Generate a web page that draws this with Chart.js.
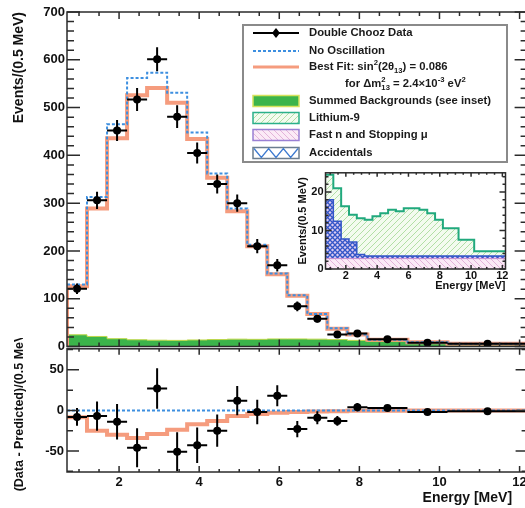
<!DOCTYPE html>
<html>
<head>
<meta charset="utf-8">
<script src="https://cdn.jsdelivr.net/npm/chart.js@4.4.1/dist/chart.umd.min.js"></script>
<style>
    html, body { margin: 0; padding: 0; background: #fff; overflow: hidden; width: 525px; height: 508px; }
    canvas { position: absolute; }
    #main { left: 0; top: 0; }
    #resid { left: 0; top: 338px; }
    #inset { left: 290px; top: 160px; }
</style>
</head>
<body>
<canvas id="main" width="540" height="360"></canvas>
<canvas id="resid" width="540" height="170"></canvas>
<canvas id="inset" width="230" height="135"></canvas>
<script>
// Bin edges in MeV (0.5 MeV bins up to 7.7, then wider ones)
const binEdges = [0.7, 1.2, 1.7, 2.2, 2.7, 3.2, 3.7, 4.2, 4.7, 5.2, 5.7, 6.2, 6.7, 7.2, 7.7, 8.2, 9.2, 10.2, 12.2];

// Events/(0.5 MeV)
const dataEvents    = [121, 306, 452, 517, 601, 481, 405, 340, 300, 210, 170, 84, 58, 25, 27, 15, 8, 6];
const dataErr       = [11, 18, 22, 24, 25, 24, 22, 20, 18, 15, 13, 10, 8, 6, 5, 3, 2, 1.5];
const noOscillation = [130, 313, 465, 562, 573, 531, 448, 362, 289, 213, 153, 107, 68, 38, 25, 14, 9, 6];
const bestFit       = [126, 289, 436, 526, 541, 510, 434, 353, 283, 210, 151, 106, 68, 37, 25, 14, 9, 6];

// backgrounds (stacked: fast n, + accidentals, + lithium-9 = total)
const bgTotal   = [24.5, 21, 16.3, 14.1, 13.2, 12.8, 13.7, 14.5, 15.4, 15, 15.8, 15.8, 15.4, 14.5, 12.8, 10.6, 7.6, 4.6];
const bgAccFast = [18, 12.4, 7.8, 7, 3.8, 3.4, 3.4, 3.4, 3.4, 3.4, 3.4, 3.4, 3.4, 3.4, 3.4, 3.4, 3.4, 3.4];
const bgFastN   = [2.7, 2.7, 2.7, 2.7, 2.7, 2.7, 2.7, 2.7, 2.7, 2.7, 2.7, 2.7, 2.7, 2.7, 2.7, 2.7, 2.7, 2.7];

// lower panel: data - predicted
const residData  = [-8, -7, -14, -46, 27, -51, -43, -25, 12, -2, 18, -23, -9, -13, 4, 3, -2, -1];
const residFit   = [-8.5, -25, -30, -34, -29, -24, -17, -13, -7, -4.5, -3, -2, -1.5, -1, -0.5, -0.3, 0, 0];
const residNoOsc = [0, 0, 0, 0, 0, 0, 0, 0, 0, 0, 0, 0, 0, 0, 0, 0, 0, 0];

// tick labels
const energyTicks = [2, 4, 6, 8, 10, 12];
const mainYTicks  = [0, 100, 200, 300, 400, 500, 600, 700];
const residYTicks = [-50, 0, 50];
const insetYTicks = [0, 10, 20];

const FONT = "'Liberation Sans', Arial, sans-serif";
const ORANGE = '#f59c7e';
const BLUE = '#3d8fe0';
const GREEN = '#3cb44b';

Chart.defaults.font.family = FONT;
Chart.defaults.font.weight = 'bold';
Chart.defaults.color = '#111';

const binCenters = binEdges.slice(0, -1).map((e, i) => (e + binEdges[i + 1]) / 2);
const binHalf = binEdges.slice(0, -1).map((e, i) => (binEdges[i + 1] - e) / 2);

// histogram outline as step points
const steps = (vals, start) => {
    const pts = binEdges.map((e, i) => ({ x: e, y: vals[Math.min(i, vals.length - 1)] }));
    if (start !== undefined) pts.unshift({ x: binEdges[0], y: start });
    return pts;
};
const points = vals => vals.map((v, i) => ({ x: binCenters[i], y: v }));

const hatch = (bg, fg, size, lw, kind) => {
    const c = document.createElement('canvas');
    c.width = c.height = size;
    const g = c.getContext('2d');
    g.fillStyle = bg;
    g.fillRect(0, 0, size, size);
    g.strokeStyle = fg;
    g.lineWidth = lw;
    g.beginPath();
    if (kind === '/' || kind === 'x') {
        g.moveTo(-1, size + 1); g.lineTo(size + 1, -1);
    }
    if (kind === '\\' || kind === 'x') {
        g.moveTo(-1, -1); g.lineTo(size + 1, size + 1);
    }
    g.stroke();
    return g.createPattern(c, 'repeat');
};
const li9Fill = hatch('#f3fbef', '#b2dfa6', 6, 1, '/');
const fastFill = hatch('#fbeaf6', '#e3b3da', 6, 1, '\\');
const accFill = hatch('#dccbf0', '#3356c8', 5, 1.3, 'x');

const eachTick = (scale, minor, major, cb) => {
    const k0 = Math.ceil(scale.min / minor - 1e-6), k1 = Math.floor(scale.max / minor + 1e-6);
    for (let k = k0; k <= k1; k++) {
        const v = k * minor;
        cb(v, Math.abs(v / major - Math.round(v / major)) < 1e-6);
    }
};

// frame with inward ticks on all four sides
const frame = (cfg) => ({
    id: 'frame',
    afterDraw(chart) {
        const { ctx, chartArea: a, scales: { x, y } } = chart;
        ctx.save();
        ctx.strokeStyle = '#2b2b2b';
        ctx.lineWidth = cfg.lw;
        ctx.beginPath();
        eachTick(x, cfg.xMinor, cfg.xMajor, (v, major) => {
            const p = x.getPixelForValue(v);
            const l = major ? cfg.xLen[0] : cfg.xLen[1];
            ctx.moveTo(p, a.bottom); ctx.lineTo(p, a.bottom - l);
            ctx.moveTo(p, a.top); ctx.lineTo(p, a.top + l);
        });
        eachTick(y, cfg.yMinor, cfg.yMajor, (v, major) => {
            const p = y.getPixelForValue(v);
            const l = major ? cfg.yLen[0] : cfg.yLen[1];
            ctx.moveTo(a.left, p); ctx.lineTo(a.left + l, p);
            ctx.moveTo(a.right, p); ctx.lineTo(a.right - l, p);
        });
        ctx.stroke();
        ctx.strokeRect(a.left, a.top, a.right - a.left, a.bottom - a.top);
        ctx.restore();
    }
});

const errorBars = (values, errors) => ({
    id: 'errorBars',
    afterDatasetsDraw(chart) {
        const { ctx, chartArea: a, scales: { x, y } } = chart;
        ctx.save();
        ctx.beginPath();
        ctx.rect(a.left, a.top, a.right - a.left, a.bottom - a.top);
        ctx.clip();
        ctx.strokeStyle = '#000';
        ctx.lineWidth = 2;
        ctx.beginPath();
        values.forEach((v, i) => {
            const cx = binCenters[i];
            const px = x.getPixelForValue(cx), py = y.getPixelForValue(v);
            ctx.moveTo(x.getPixelForValue(cx - binHalf[i]), py);
            ctx.lineTo(x.getPixelForValue(cx + binHalf[i]), py);
            ctx.moveTo(px, y.getPixelForValue(v - errors[i]));
            ctx.lineTo(px, y.getPixelForValue(v + errors[i]));
        });
        ctx.stroke();
        ctx.restore();
    }
});

const richText = (ctx, x, y, parts, size) => {
    ctx.textBaseline = 'middle';
    ctx.textAlign = 'left';
    const small = `bold ${size * 0.68}px ${FONT}`;
    for (const [t, kind] of parts) {
        if (kind === 'sup' || kind === 'sub') {
            ctx.font = small;
            ctx.fillText(t, x, y + (kind === 'sup' ? -size * 0.4 : size * 0.32));
            x += ctx.measureText(t).width;
        } else if (kind === 'both') {
            ctx.font = small;
            ctx.fillText(t[0], x, y - size * 0.4);
            ctx.fillText(t[1], x, y + size * 0.32);
            x += Math.max(ctx.measureText(t[0]).width, ctx.measureText(t[1]).width);
        } else {
            ctx.font = `bold ${size}px ${FONT}`;
            ctx.fillText(t, x, y);
            x += ctx.measureText(t).width;
        }
    }
};

const legendBox = {
    id: 'legendBox',
    afterDraw(chart) {
        const ctx = chart.ctx;
        const sx = 253, sw = 46, tx = 309, fs = 11.3;
        ctx.save();
        ctx.fillStyle = '#fff';
        ctx.fillRect(243, 25, 264, 137);
        ctx.lineWidth = 2;
        ctx.strokeStyle = '#8a8a8a';
        ctx.strokeRect(243, 25, 264, 137);

        // data
        ctx.strokeStyle = '#000';
        ctx.lineWidth = 2;
        ctx.beginPath(); ctx.moveTo(sx, 33); ctx.lineTo(sx + sw, 33); ctx.stroke();
        ctx.fillStyle = '#000';
        ctx.beginPath();
        ctx.moveTo(sx + sw / 2, 28); ctx.lineTo(sx + sw / 2 + 4, 33);
        ctx.lineTo(sx + sw / 2, 38); ctx.lineTo(sx + sw / 2 - 4, 33);
        ctx.closePath(); ctx.fill();
        // no oscillation
        ctx.strokeStyle = BLUE;
        ctx.setLineDash([3, 2]);
        ctx.beginPath(); ctx.moveTo(sx, 51); ctx.lineTo(sx + sw, 51); ctx.stroke();
        ctx.setLineDash([]);
        // best fit
        ctx.strokeStyle = ORANGE;
        ctx.lineWidth = 3;
        ctx.beginPath(); ctx.moveTo(sx, 67); ctx.lineTo(sx + sw, 67); ctx.stroke();

        const box = (y, fill, stroke) => {
            ctx.fillStyle = fill;
            ctx.fillRect(sx, y - 5.5, sw, 11);
            ctx.strokeStyle = stroke;
            ctx.lineWidth = 1.5;
            ctx.strokeRect(sx, y - 5.5, sw, 11);
        };
        box(101, GREEN, '#d6e25c');
        box(118, li9Fill, '#2bb08a');
        box(135, fastFill, '#9a80d4');
        box(153, '#fff', '#6b7d8f');
        ctx.strokeStyle = '#3d7ad0';
        ctx.lineWidth = 1.3;
        ctx.beginPath();
        for (let i = 0; i <= 6; i++) {
            const px = sx + 1 + i * (sw - 2) / 6, py = i % 2 ? 157.5 : 148.5;
            if (i === 0) ctx.moveTo(px, py); else ctx.lineTo(px, py);
        }
        ctx.stroke();

        ctx.fillStyle = '#1a1a1a';
        richText(ctx, tx, 33, [['Double Chooz Data', 'n']], fs);
        richText(ctx, tx, 51, [['No Oscillation', 'n']], fs);
        richText(ctx, tx, 67, [['Best Fit: sin', 'n'], ['2', 'sup'], ['(2\u03b8', 'n'], ['13', 'sub'], [') = 0.086', 'n']], fs);
        richText(ctx, 345, 84, [['for \u0394m', 'n'], [['2', '13'], 'both'], [' = 2.4\u00d710', 'n'], ['-3', 'sup'], [' eV', 'n'], ['2', 'sup']], fs);
        richText(ctx, tx, 101, [['Summed Backgrounds (see inset)', 'n']], fs);
        richText(ctx, tx, 118, [['Lithium-9', 'n']], fs);
        richText(ctx, tx, 135, [['Fast n and Stopping \u03bc', 'n']], fs);
        richText(ctx, tx, 153, [['Accidentals', 'n']], fs);
        ctx.restore();
    }
};

const fixedTicks = list => s => { s.ticks = list.map(v => ({ value: v })); };
const baseOptions = {
    responsive: false,
    animation: false,
    events: [],
    plugins: { legend: { display: false }, tooltip: { enabled: false } },
    elements: { line: { tension: 0 } }
};

// 1. Main spectrum
new Chart(document.getElementById('main'), {
    type: 'line',
    data: {
        datasets: [
            { data: points(dataEvents), showLine: false, pointRadius: 4, pointBackgroundColor: '#000', pointBorderWidth: 0 },
            { data: steps(noOscillation), stepped: 'before', borderColor: BLUE, borderWidth: 2, borderDash: [3, 2], pointRadius: 0 },
            { data: steps(bestFit, 0), stepped: 'before', borderColor: ORANGE, borderWidth: 4, pointRadius: 0 },
            { data: steps(bgTotal), stepped: 'before', borderColor: '#bfd84a', borderWidth: 1, backgroundColor: GREEN, fill: 'origin', pointRadius: 0 }
        ]
    },
    options: {
        ...baseOptions,
        layout: { padding: { top: 12, right: 12.4, bottom: 13.5, left: 0 } },
        scales: {
            x: { type: 'linear', min: 0.7, max: 12.2, display: false },
            y: {
                type: 'linear', min: 0, max: 700,
                afterBuildTicks: fixedTicks(mainYTicks),
                afterFit: s => { s.width = 67; },
                grid: { display: false, drawTicks: false },
                border: { display: false },
                ticks: { padding: 2, autoSkip: false, font: { size: 13, weight: 'bold' } },
                title: { display: true, text: 'Events/(0.5 MeV)', align: 'end', font: { size: 14, weight: 'bold' }, padding: { top: 10.6, bottom: 0 } }
            }
        }
    },
    plugins: [errorBars(dataEvents, dataErr), frame({ lw: 1.5, xMinor: 0.5, xMajor: 2, xLen: [7, 4], yMinor: 20, yMajor: 100, yLen: [13, 7] }), legendBox]
});

// 2. Residuals
new Chart(document.getElementById('resid'), {
    type: 'line',
    data: {
        datasets: [
            { data: points(residData), showLine: false, pointRadius: 4, pointBackgroundColor: '#000', pointBorderWidth: 0 },
            { data: steps(residNoOsc), stepped: 'before', borderColor: BLUE, borderWidth: 2, borderDash: [3, 2], pointRadius: 0 },
            { data: steps(residFit), stepped: 'before', borderColor: ORANGE, borderWidth: 4, pointRadius: 0 }
        ]
    },
    options: {
        ...baseOptions,
        layout: { padding: { top: 8.5, right: 12.4, bottom: 0, left: 0 } },
        scales: {
            x: {
                type: 'linear', min: 0.7, max: 12.2,
                afterBuildTicks: fixedTicks(energyTicks),
                afterFit: s => { s.height = 36; },
                grid: { display: false, drawTicks: false },
                border: { display: false },
                ticks: { padding: 2.5, autoSkip: false, maxRotation: 0, font: { size: 13, weight: 'bold' } },
                title: { display: true, text: 'Energy [MeV]\u00a0\u00a0\u00a0\u00a0', align: 'end', font: { size: 14, weight: 'bold' }, padding: { top: 0, bottom: 1.6 } }
            },
            y: {
                type: 'linear', min: -76, max: 76,
                afterBuildTicks: fixedTicks(residYTicks),
                afterFit: s => { s.width = 67; },
                grid: { display: false, drawTicks: false },
                border: { display: false },
                ticks: { padding: 3, autoSkip: false, font: { size: 13, weight: 'bold' } },
                title: { display: true, text: '(Data - Predicted)/(0.5 MeV)', align: 'center', font: { size: 12.5, weight: 'bold' }, padding: { top: 12.5, bottom: 0 } }
            }
        }
    },
    plugins: [errorBars(residData, dataErr), frame({ lw: 1.5, xMinor: 0.5, xMajor: 2, xLen: [6, 3], yMinor: 25, yMajor: 50, yLen: [12, 6] })]
});

// 3. Inset: background components
new Chart(document.getElementById('inset'), {
    type: 'line',
    data: {
        datasets: [
            { data: steps(bgFastN), stepped: 'before', borderColor: '#c98fd0', borderWidth: 1, backgroundColor: fastFill, fill: 'origin', pointRadius: 0 },
            { data: steps(bgAccFast), stepped: 'before', borderColor: '#3356c8', borderWidth: 1.5, backgroundColor: accFill, fill: 'origin', pointRadius: 0 },
            { data: steps(bgTotal), stepped: 'before', borderColor: '#21a97d', borderWidth: 2, backgroundColor: li9Fill, fill: 'origin', pointRadius: 0 }
        ]
    },
    options: {
        ...baseOptions,
        layout: { padding: { top: 12.8, right: 14.5, bottom: 0, left: 0 } },
        scales: {
            x: {
                type: 'linear', min: 0.7, max: 12.2,
                afterBuildTicks: fixedTicks(energyTicks),
                afterFit: s => { s.height = 26; },
                grid: { display: false, drawTicks: false },
                border: { display: false },
                ticks: { padding: 0, autoSkip: false, maxRotation: 0, font: { size: 11, weight: 'bold' } },
                title: { display: true, text: 'Energy [MeV]', align: 'end', font: { size: 11, weight: 'bold' }, padding: { top: 0, bottom: 2.4 } }
            },
            y: {
                type: 'linear', min: 0, max: 25,
                afterBuildTicks: fixedTicks(insetYTicks),
                afterFit: s => { s.width = 35.5; },
                grid: { display: false, drawTicks: false },
                border: { display: false },
                ticks: { padding: 2, autoSkip: false, font: { size: 11, weight: 'bold' } },
                title: { display: true, text: 'Events/(0.5 MeV)', align: 'center', font: { size: 11, weight: 'bold' }, padding: { top: 6.5, bottom: 0 } }
            }
        }
    },
    plugins: [frame({ lw: 1.5, xMinor: 0.5, xMajor: 2, xLen: [4, 2], yMinor: 2, yMajor: 10, yLen: [6, 3] })]
});
</script>
</body>
</html>
